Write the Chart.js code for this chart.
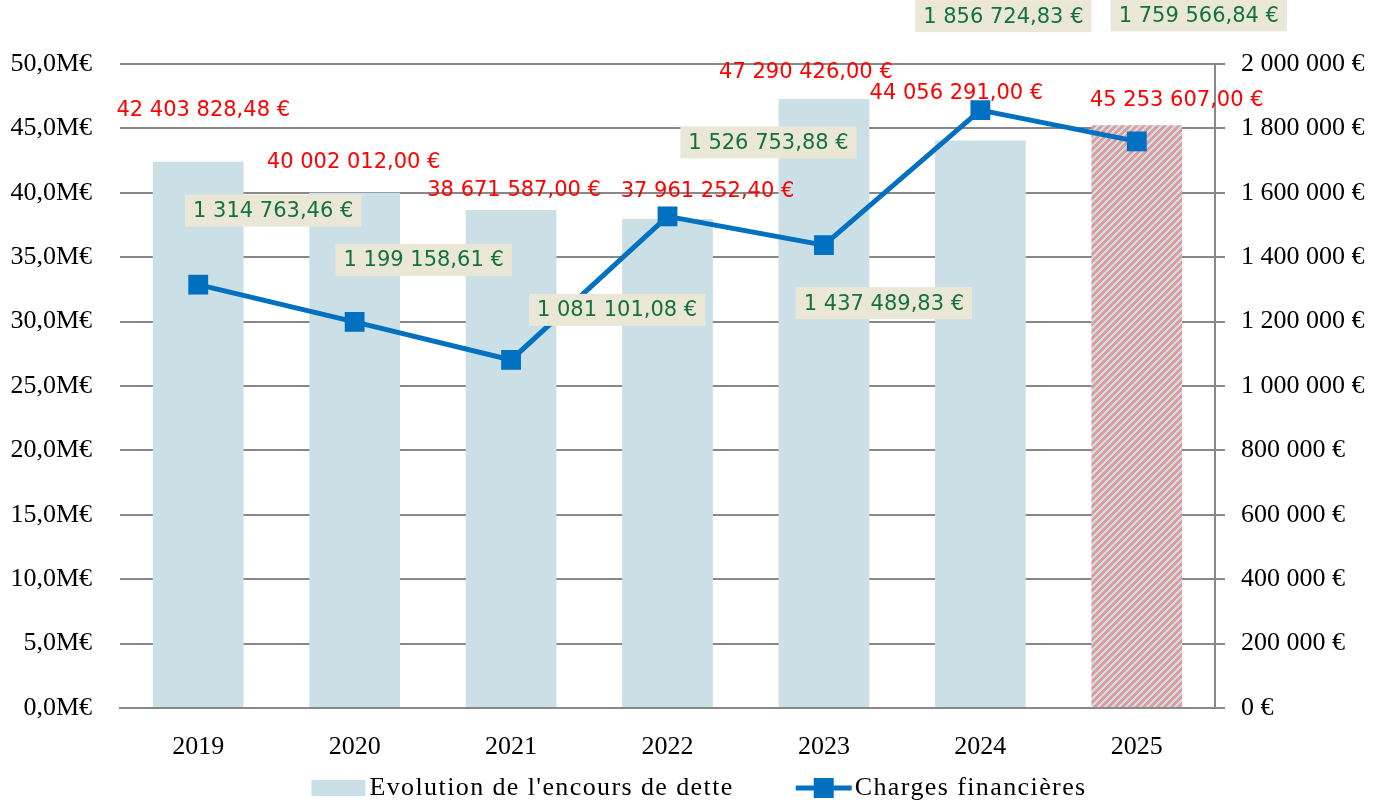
<!DOCTYPE html>
<html>
<head>
<meta charset="utf-8">
<script src="https://cdn.jsdelivr.net/npm/chart.js@4.4.0/dist/chart.umd.min.js"></script>
<style>
  html, body { margin: 0; padding: 0; background: #fff; }
  #wrap { width: 1384px; height: 804px; }
</style>
</head>
<body>
<div id="wrap"><canvas id="myChart" width="1384" height="804"></canvas></div>
<script>
// donnees
var years = ['2019', '2020', '2021', '2022', '2023', '2024', '2025'];
var encours = [42403828.48, 40002012.00, 38671587.00, 37961252.40, 47290426.00, 44056291.00, 45253607.00];
var charges = [1314763.46, 1199158.61, 1081101.08, 1526753.88, 1437489.83, 1856724.83, 1759566.84];
var encoursLabel = "Evolution de l'encours de dette";
var chargesLabel = 'Charges financières';

// decalage des etiquettes (px) par rapport au haut de la barre / au point
var redOffsets = [[5, -51], [-1, -30], [3, -19], [40, -28], [-18, -26], [-24, -47], [40, -25]];
var greenOffsets = [[75, -74], [69, -62], [106, -50], [101, -74], [60, 58], [23, -94], [62, -126]];

var GRID = '#888888';
var BAR = '#cadfe6';
var LINE = '#0070c0';
var SERIF = '"Liberation Serif", serif';
var SANS = '"DejaVu Sans", Verdana, sans-serif';

function groupDigits(n) {
    return String(n).replace(/\B(?=(\d{3})+(?!\d))/g, '\u00a0');
}
function fmtEuro(v) {
    var p = v.toFixed(2).split('.');
    return groupDigits(p[0]) + ',' + p[1] + '\u00a0€';
}

// motif hachure pour 2025
function makePattern() {
    var c = document.createElement('canvas');
    c.width = 7; c.height = 7;
    var g = c.getContext('2d');
    for (var y = 0; y < 7; y++) {
        for (var x = 0; x < 7; x++) {
            g.fillStyle = ((x + y) % 7) < 4 ? '#e39a9a' : BAR;
            g.fillRect(x, y, 1, 1);
        }
    }
    return g.createPattern(c, 'repeat');
}

var labelsPlugin = {
    id: 'labelsPlugin',
    afterDatasetsDraw: function (chart) {
        var ctx = chart.ctx;
        var bars = chart.getDatasetMeta(0).data;
        var pts = chart.getDatasetMeta(1).data;
        ctx.save();
        ctx.font = '21px ' + SANS;
        ctx.textAlign = 'center';
        ctx.textBaseline = 'middle';
        bars.forEach(function (b, i) {
            ctx.fillStyle = '#ff0000';
            ctx.fillText(fmtEuro(encours[i]), b.x + redOffsets[i][0], b.y + redOffsets[i][1]);
        });
        pts.forEach(function (p, i) {
            var t = fmtEuro(charges[i]);
            var cx = p.x + greenOffsets[i][0], cy = p.y + greenOffsets[i][1];
            var w = ctx.measureText(t).width + 16, h = 32;
            ctx.fillStyle = '#ebe7d6';
            ctx.fillRect(cx - w / 2, cy - h / 2, w, h);
            ctx.fillStyle = '#12733a';
            ctx.fillText(t, cx, cy + 1);
        });
        ctx.restore();
    },
    afterDraw: function (chart) {
        // legende
        var ctx = chart.ctx;
        ctx.save();
        ctx.font = '26px ' + SERIF;
        ctx.letterSpacing = '1.4px';
        ctx.textBaseline = 'middle';
        ctx.textAlign = 'left';
        var y = 788;
        var w1 = ctx.measureText(encoursLabel).width;
        var w2 = ctx.measureText(chargesLabel).width;
        var total = 54 + 4 + w1 + 62 + 56 + 3 + w2;
        var x = chart.width / 2 - total / 2 + 7;
        ctx.fillStyle = BAR;
        ctx.fillRect(x, y - 8, 54, 16);
        x += 58;
        ctx.fillStyle = '#000';
        ctx.fillText(encoursLabel, x, y);
        x += w1 + 62;
        ctx.strokeStyle = LINE;
        ctx.lineWidth = 5;
        ctx.beginPath();
        ctx.moveTo(x, y);
        ctx.lineTo(x + 56, y);
        ctx.stroke();
        ctx.fillStyle = LINE;
        ctx.fillRect(x + 18, y - 10, 20, 20);
        x += 59;
        ctx.fillStyle = '#000';
        ctx.fillText(chargesLabel, x, y);
        ctx.restore();
    }
};

var barColors = years.map(function (y, i) { return i === years.length - 1 ? makePattern() : BAR; });

var ctx = document.getElementById('myChart');
var myChart = new Chart(ctx, {
    type: 'bar',
    data: {
        labels: years,
        datasets: [{
            type: 'bar',
            label: encoursLabel,
            data: encours,
            backgroundColor: barColors,
            yAxisID: 'y',
            categoryPercentage: 1,
            barPercentage: 0.58,
            order: 2
        }, {
            type: 'line',
            label: chargesLabel,
            data: charges,
            borderColor: LINE,
            backgroundColor: LINE,
            borderWidth: 5,
            pointStyle: 'rect',
            pointRadius: 14,
            pointBorderWidth: 0,
            pointBackgroundColor: LINE,
            yAxisID: 'y1',
            order: 1
        }]
    },
    options: {
        responsive: false,
        animation: false,
        layout: { padding: { top: 64, bottom: 40, left: 0, right: 0 } },
        plugins: { legend: { display: false }, tooltip: { enabled: false } },
        scales: {
            x: {
                grid: { display: false },
                border: { display: true, color: GRID, width: 2 },
                ticks: { color: '#000', font: { family: SERIF, size: 26 }, padding: 16 },
                afterFit: function (s) { s.height = 56; }
            },
            y: {
                position: 'left',
                min: 0, max: 50000000,
                ticks: {
                    stepSize: 5000000, color: '#000', padding: 28,
                    font: { family: SERIF, size: 26 },
                    callback: function (v) { return (v / 1e6).toFixed(1).replace('.', ',') + 'M€'; }
                },
                grid: { color: GRID, lineWidth: 2, drawTicks: false },
                border: { display: false },
                afterFit: function (s) { s.width = 120; }
            },
            y1: {
                position: 'right',
                min: 0, max: 2000000,
                ticks: {
                    stepSize: 200000, color: '#000', padding: 16,
                    font: { family: SERIF, size: 26 },
                    callback: function (v) { return groupDigits(v) + '\u00a0€'; }
                },
                grid: { drawOnChartArea: false, drawTicks: true, tickLength: 10, color: GRID, lineWidth: 2 },
                border: { display: true, color: GRID, width: 2 },
                afterFit: function (s) { s.width = 169; }
            }
        }
    },
    plugins: [labelsPlugin]
});
</script>
</body>
</html>
